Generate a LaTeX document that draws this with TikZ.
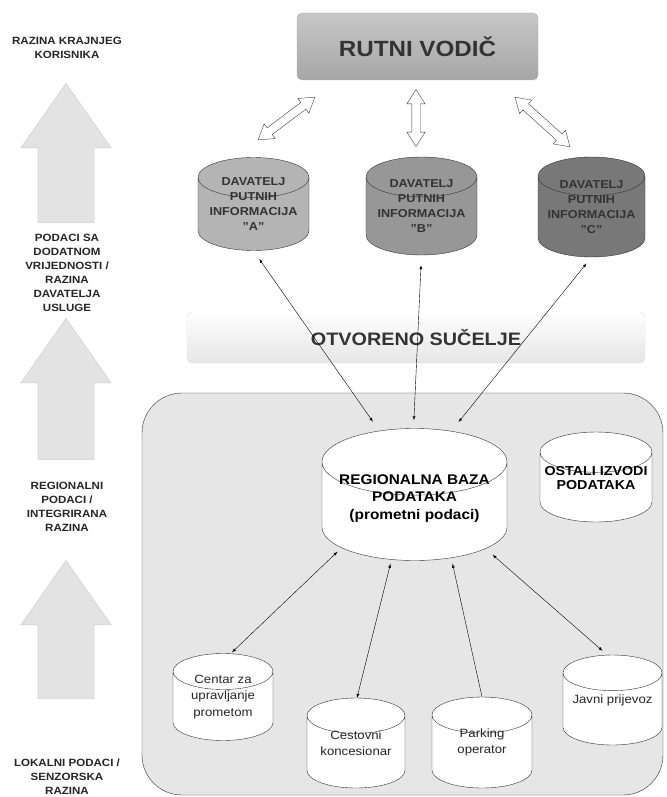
\documentclass[tikz,border=0pt]{standalone}
\usepackage{fontspec}
\setmainfont{Liberation Sans}[FakeStretch=1.1]
\usetikzlibrary{shapes.geometric,shapes.arrows,calc}

\definecolor{sivaA}{HTML}{B4B4B4}
\definecolor{sivaB}{HTML}{979797}
\definecolor{sivaC}{HTML}{787878}
\definecolor{pozadina}{HTML}{E6E6E6}

\begin{document}
\begin{tikzpicture}[x=1pt,y=-1pt,>=latex,
  razina/.style={font=\bfseries\fontsize{10.5}{14}\selectfont,align=center,text=black!85},
  strelica/.style={single arrow,draw=black!20,fill=black!11,rotate=90,anchor=tip,inner xsep=0pt,
    inner ysep=28pt,single arrow head extend=17pt,single arrow tip angle=70},
  dvosmjer/.style={double arrow,draw=black!75,fill=white,inner xsep=0pt,inner ysep=4pt,
    double arrow head extend=5pt,double arrow tip angle=65},
  baza/.style args={#1x#2}{cylinder,shape border rotate=90,draw=black!80,aspect=0.36,
    anchor=shape center,inner sep=0pt,text width=#1pt,minimum width=#1pt,minimum height=#2pt},
  davtekst/.style={align=center,font=\bfseries\fontsize{11.5}{15}\selectfont,text=black!80},
  izvtekst/.style={align=center,font=\fontsize{12}{16.5}\selectfont,text=black!85}]
\useasboundingbox (0,0) rectangle (666,797);

% razine
\foreach \y/\n/\d in {83/1/139,318/2/141,560/3/138}
\node[strelica,minimum height=\d pt] (str\n) at (66,\y) {};
\node[razina] (r1) at (67,48) {RAZINA KRAJNJEG\\KORISNIKA};
\node[razina] (r2) at (67,273) {PODACI SA\\DODATNOM\\VRIJEDNOSTI /\\RAZINA\\DAVATELJA\\USLUGE};
\node[razina] (r3) at (67,507) {REGIONALNI\\PODACI /\\INTEGRIRANA\\RAZINA};
\node[razina] (r4) at (67,777) {LOKALNI PODACI /\\SENZORSKA\\RAZINA};

% rutni vodic
\node[rounded corners=5pt,draw=black!30,top color=black!22,bottom color=black!35,
  minimum width=241pt,minimum height=67pt,text=black!80,
  font=\bfseries\fontsize{22}{24}\selectfont] (vodic) at (417.5,46.5) {RUTNI VODIČ};

\node[dvosmjer,minimum height=71pt,rotate=37] (dA) at (286.5,118.5) {};
\node[dvosmjer,minimum height=57pt,rotate=90] (dB) at (416,118) {};
\node[dvosmjer,minimum height=74pt,rotate=-42] (dC) at (542.5,122) {};

\node[baza=111x93,fill=sivaA] (davA) at (253.5,204) {};
\node[baza=111x98,fill=sivaB] (davB) at (421.5,206) {};
\node[baza=107x100,fill=sivaC] (davC) at (591.5,207) {};
\node[davtekst] (davAt) at (davA.shape center) {DAVATELJ\\PUTNIH\\INFORMACIJA\\"A"};
\node[davtekst] (davBt) at (davB.shape center) {DAVATELJ\\PUTNIH\\INFORMACIJA\\"B"};
\node[davtekst] (davCt) at (davC.shape center) {DAVATELJ\\PUTNIH\\INFORMACIJA\\"C"};

% otvoreno sucelje
\node[rounded corners=5pt,draw=black!12,top color=white,bottom color=black!10,
  minimum width=458pt,minimum height=51pt,text=black!80,
  font=\bfseries\fontsize{18}{20}\selectfont] (sucelje) at (416,337.5) {OTVORENO SUČELJE};

% regionalna razina
\node[draw=black!80,fill=pozadina,rounded corners=40pt,minimum width=521pt,
  minimum height=402pt] (regija) at (402.5,594) {};

\node[baza=185x132,fill=white] (reg) at (414.5,494.5) {};
\node[davtekst,text=black,font=\bfseries\fontsize{14}{17.5}\selectfont] (regt)
  at ($(reg.shape center)+(0,4)$) {REGIONALNA BAZA\\PODATAKA\\(prometni podaci)};
\node[baza=112x90,fill=white] (ostali) at (596,477) {};
\node[davtekst,text=black,font=\bfseries\fontsize{13}{14.5}\selectfont] (ostalit)
  at ($(ostali.shape center)+(0,1)$) {OSTALI IZVODI\\PODATAKA};

\node[baza=100x87,fill=white] (centar) at (223,697) {};
\node[baza=98x90,fill=white] (cest) at (356,743) {};
\node[baza=100x91,fill=white] (park) at (482,742.5) {};
\node[baza=99x90,fill=white] (javni) at (612.5,700) {};
\node[izvtekst] (centart) at (centar.shape center) {Centar za\\upravljanje\\prometom};
\node[izvtekst] (cestt) at (cest.shape center) {Cestovni\\koncesionar};
\node[izvtekst] (parkt) at (park.shape center) {Parking\\operator};
\node[izvtekst] (javnit) at (javni.shape center) {Javni prijevoz};

% veze
\draw[<->,shorten <=10pt,shorten >=8pt] (davA.south) -- ($(reg.north)+(-37,0)$);
\draw[<->,shorten <=10pt,shorten >=8pt] (davB.south) -- ($(reg.north)+(-1,0)$);
\draw[<->,shorten <=8pt,shorten >=8pt] (davC.south) -- ($(reg.north)+(39,0)$);

\draw[<->] ($(reg.south)+(-77,-9)$) -- ($(centar.north)+(9,-1)$);
\draw[<->] ($(reg.south)+(-24,3)$) -- ($(cest.north)+(1,0)$);
\draw[->] (park.north) -- ($(reg.south)+(38,3)$);
\draw[<->] ($(reg.south)+(78,-6)$) -- ($(javni.north)+(-10,-4)$);
\end{tikzpicture}
\end{document}
